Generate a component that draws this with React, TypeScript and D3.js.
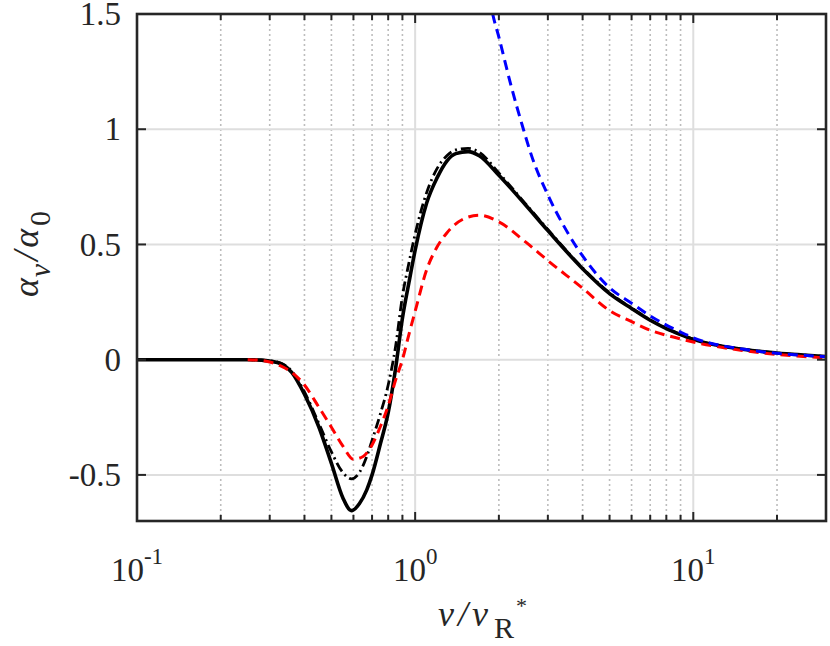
import * as d3 from 'd3';
import { useEffect, useRef } from 'react';

// frequency samples (nu / nu_R*) and alpha_nu / alpha_0
const nuBlack = [0.1, 0.2, 0.25, 0.28, 0.3, 0.33, 0.36, 0.4, 0.45, 0.5, 0.55, 0.59, 0.63, 0.67, 0.7, 0.75, 0.8, 0.85, 0.9, 0.95, 1.0, 1.1, 1.2, 1.3, 1.4, 1.55, 1.7, 2, 2.5, 3, 4, 5, 6, 7, 8, 9, 10, 15, 20, 30];
const solidVals = [0, 0, 0, -0.002, -0.006, -0.018, -0.055, -0.15, -0.29, -0.45, -0.6, -0.655, -0.625, -0.565, -0.5, -0.365, -0.23, -0.04, 0.18, 0.335, 0.475, 0.68, 0.79, 0.862, 0.894, 0.903, 0.885, 0.8, 0.67, 0.56, 0.395, 0.287, 0.222, 0.171, 0.135, 0.109, 0.088, 0.045, 0.029, 0.014];
const dashDotVals = [0, 0, 0, -0.002, -0.005, -0.016, -0.05, -0.14, -0.275, -0.4, -0.49, -0.517, -0.49, -0.42, -0.35, -0.235, -0.11, 0.055, 0.275, 0.42, 0.545, 0.725, 0.83, 0.885, 0.91, 0.917, 0.9, 0.81, 0.675, 0.565, 0.398, 0.29, 0.224, 0.173, 0.136, 0.11, 0.089, 0.046, 0.029, 0.014];

const nuRed = [0.25, 0.28, 0.3, 0.33, 0.36, 0.4, 0.45, 0.5, 0.55, 0.6, 0.65, 0.7, 0.75, 0.8, 0.85, 0.9, 0.95, 1.0, 1.1, 1.2, 1.3, 1.5, 1.7, 2, 2.5, 3, 4, 5, 6, 7, 8, 9, 10, 15, 20, 30];
const redVals = [0, -0.003, -0.01, -0.028, -0.055, -0.11, -0.205, -0.293, -0.375, -0.432, -0.42, -0.37, -0.29, -0.2, -0.09, 0.0, 0.11, 0.21, 0.39, 0.49, 0.55, 0.612, 0.627, 0.598, 0.51, 0.43, 0.31, 0.213, 0.165, 0.128, 0.106, 0.09, 0.077, 0.04, 0.023, 0.008];

const nuBlue = [1.85, 1.9, 2, 2.2, 2.45, 2.63, 3, 3.5, 4, 5, 6, 7, 8, 9, 10, 15, 20, 30];
const blueVals = [1.57, 1.5, 1.4, 1.2, 1.0, 0.88, 0.715, 0.56, 0.45, 0.312, 0.245, 0.19, 0.15, 0.12, 0.095, 0.046, 0.028, 0.013];

const yTicks = [-0.5, 0, 0.5, 1, 1.5];
const yTickLabels = ['-0.5', '0', '0.5', '1', '1.5'];
const xMajor = [0.1, 1, 10];
const xMajorExp = ['-1', '0', '1'];
const xMinor = [0.2, 0.3, 0.4, 0.5, 0.6, 0.7, 0.8, 0.9, 2, 3, 4, 5, 6, 7, 8, 9, 20];

const App = () => {
    const ref = useRef<SVGSVGElement>(null);

    useEffect(() => {
        drawChart();
    }, []);

    const drawChart = () => {
        var margin = { top: 14, right: 4, bottom: 125, left: 137 },
            W = 830, H = 646,
            width = W - margin.left - margin.right,
            height = H - margin.top - margin.bottom;

        var svg = d3.select(ref.current);
        svg.selectAll('*').remove();

        var x: any = d3.scaleLog().domain([0.1, 30]).range([0, width]);
        var y: any = d3.scaleLinear().domain([-0.7, 1.5]).range([height, 0]);

        var g = svg.append('g')
            .attr('transform', 'translate(' + margin.left + ',' + margin.top + ')');

        g.append('clipPath').attr('id', 'plotClip')
            .append('rect').attr('width', width).attr('height', height);

        // grid
        g.selectAll('.minorGrid').data(xMinor).enter().append('line')
            .attr('x1', (d: any) => x(d)).attr('x2', (d: any) => x(d))
            .attr('y1', 0).attr('y2', height)
            .attr('stroke', '#bdbdbd').attr('stroke-width', 1.6)
            .attr('stroke-dasharray', '2,3');
        g.selectAll('.majorGridX').data(xMajor.slice(1)).enter().append('line')
            .attr('x1', (d: any) => x(d)).attr('x2', (d: any) => x(d))
            .attr('y1', 0).attr('y2', height)
            .attr('stroke', '#dedede').attr('stroke-width', 2);
        g.selectAll('.majorGridY').data(yTicks).enter().append('line')
            .attr('x1', 0).attr('x2', width)
            .attr('y1', (d: any) => y(d)).attr('y2', (d: any) => y(d))
            .attr('stroke', '#dedede').attr('stroke-width', 2);

        // curves
        var line = (xs: number[], ys: number[]) => d3.line<number>()
            .x((d, i) => x(xs[i]))
            .y((d) => y(d))
            .curve(d3.curveMonotoneX)(ys);

        var curves = g.append('g').attr('clip-path', 'url(#plotClip)');
        curves.append('path').attr('d', line(nuBlack, solidVals))
            .attr('fill', 'none').attr('stroke', '#000').attr('stroke-width', 3.6);
        curves.append('path').attr('d', line(nuBlack, dashDotVals))
            .attr('fill', 'none').attr('stroke', '#000').attr('stroke-width', 2.8)
            .attr('stroke-dasharray', '10,4,2,4');
        curves.append('path').attr('d', line(nuRed, redVals))
            .attr('fill', 'none').attr('stroke', '#ff0000').attr('stroke-width', 3)
            .attr('stroke-dasharray', '10,6');
        curves.append('path').attr('d', line(nuBlue, blueVals))
            .attr('fill', 'none').attr('stroke', '#0000ff').attr('stroke-width', 3)
            .attr('stroke-dasharray', '10,6');

        // ticks (inward, bottom and top)
        var axisColor = '#262626';
        var tickSets = [
            { vals: xMinor, len: 6 },
            { vals: xMajor, len: 9 },
        ];
        tickSets.forEach((t) => {
            g.selectAll(null).data(t.vals).enter().append('line')
                .attr('x1', (d: any) => x(d)).attr('x2', (d: any) => x(d))
                .attr('y1', height).attr('y2', height - t.len)
                .attr('stroke', axisColor).attr('stroke-width', 2);
            g.selectAll(null).data(t.vals).enter().append('line')
                .attr('x1', (d: any) => x(d)).attr('x2', (d: any) => x(d))
                .attr('y1', 0).attr('y2', t.len)
                .attr('stroke', axisColor).attr('stroke-width', 2);
        });
        g.selectAll(null).data(yTicks).enter().append('line')
            .attr('x1', 0).attr('x2', 9)
            .attr('y1', (d: any) => y(d)).attr('y2', (d: any) => y(d))
            .attr('stroke', axisColor).attr('stroke-width', 2);
        g.selectAll(null).data(yTicks).enter().append('line')
            .attr('x1', width).attr('x2', width - 9)
            .attr('y1', (d: any) => y(d)).attr('y2', (d: any) => y(d))
            .attr('stroke', axisColor).attr('stroke-width', 2);

        // box
        g.append('rect').attr('width', width).attr('height', height)
            .attr('fill', 'none').attr('stroke', axisColor).attr('stroke-width', 2.6);

        var font = 'Liberation Serif';

        // y tick labels
        g.selectAll(null).data(yTicks).enter().append('text')
            .attr('x', -16).attr('y', (d: any) => y(d))
            .attr('dy', '0.34em')
            .attr('text-anchor', 'end')
            .attr('font-family', font).attr('font-size', 33).attr('fill', '#262626')
            .text((d: any, i: number) => yTickLabels[i]);

        // x tick labels 10^n
        xMajor.forEach((v, i) => {
            var t = g.append('text')
                .attr('x', x(v)).attr('y', height + 60)
                .attr('text-anchor', 'middle')
                .attr('font-family', font).attr('font-size', 33).attr('fill', '#262626');
            t.append('tspan').text('10');
            t.append('tspan').attr('dy', -17).attr('font-size', 23).text(xMajorExp[i]);
        });

        // x label  nu / nu_R*
        var xl = svg.append('text')
            .attr('x', 438).attr('y', 626)
            .attr('font-family', font).attr('font-size', 36).attr('fill', '#262626');
        xl.append('tspan').attr('font-style', 'italic').attr('letter-spacing', 4).text('ν/ν');
        xl.append('tspan').attr('dx', 2).attr('dy', 12).attr('font-size', 30).text('R');
        xl.append('tspan').attr('dx', 2).attr('dy', -25).attr('font-size', 22).text('*');

        // y label  alpha_nu / alpha_0
        var yl = svg.append('text')
            .attr('transform', 'translate(38,254) rotate(-90)')
            .attr('text-anchor', 'middle')
            .attr('font-family', font).attr('font-size', 36).attr('fill', '#262626');
        yl.append('tspan').attr('font-style', 'italic').text('α');
        yl.append('tspan').attr('dx', 1).attr('dy', 12).attr('font-style', 'italic').attr('font-size', 30).text('ν');
        yl.append('tspan').attr('dx', 3).attr('dy', -12).attr('font-style', 'italic').attr('letter-spacing', 3).text('/α');
        yl.append('tspan').attr('dy', 12).attr('font-size', 30).text('0');
    };

    return (
        <div style={{ position: 'absolute', left: 0, top: 0 }}>
            <svg ref={ref} width={830} height={646} style={{ background: '#fff', display: 'block' }}></svg>
        </div>
    );
};

export default App;
